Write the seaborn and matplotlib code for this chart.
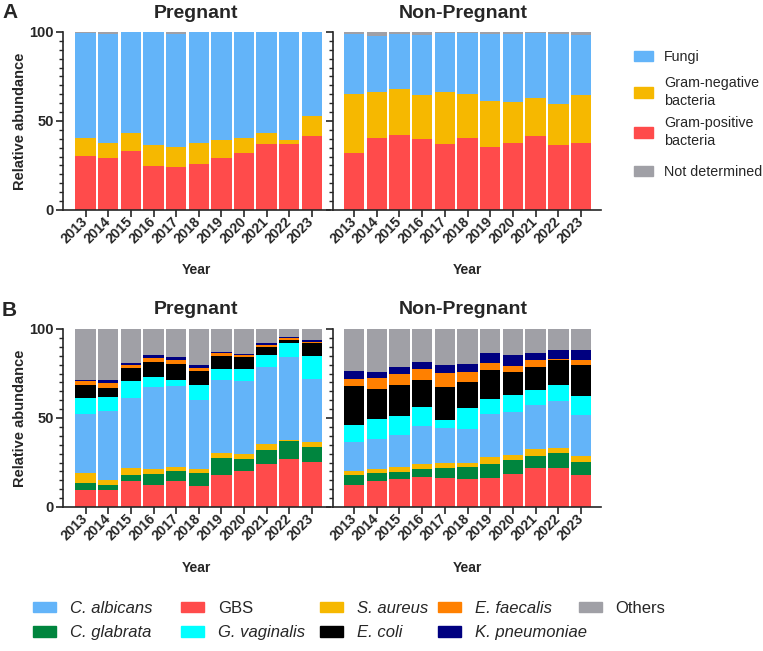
import matplotlib.pyplot as plt
import seaborn as sns
from matplotlib.patches import Patch
from matplotlib.ticker import MultipleLocator

years = [str(y) for y in range(2013, 2024)]

# Panel A: broad groups, relative abundance (%)
a_preg_gram_pos = [30.3, 29.3, 33.1, 24.7, 24.3, 26.0, 29.3, 32.0, 37.2, 37.0, 41.7]
a_preg_gram_neg = [9.9, 8.1, 9.9, 11.7, 11.0, 11.4, 10.0, 8.7, 6.2, 2.6, 11.0]
a_preg_fungi = [59.2, 61.6, 56.8, 63.4, 63.7, 62.4, 60.5, 59.1, 56.5, 60.3, 47.1]
a_preg_nd = [0.6, 1.0, 0.2, 0.2, 1.0, 0.2, 0.2, 0.2, 0.1, 0.1, 0.2]

a_nonp_gram_pos = [32.0, 40.7, 41.9, 39.8, 37.0, 40.7, 35.5, 37.8, 41.3, 36.4, 37.6]
a_nonp_gram_neg = [32.9, 25.5, 26.3, 24.7, 29.2, 24.7, 25.8, 22.9, 21.5, 23.2, 26.9]
a_nonp_fungi = [34.1, 31.8, 30.8, 33.8, 33.4, 34.2, 37.7, 38.0, 36.8, 39.4, 33.8]
a_nonp_nd = [1.0, 2.0, 1.0, 1.7, 0.4, 0.4, 1.0, 1.3, 0.4, 1.0, 1.7]

# Panel B: species, relative abundance (%)
b_preg_gbs = [9.7, 9.4, 14.8, 12.2, 14.4, 11.6, 18.0, 20.4, 24.3, 27.2, 25.5]
b_preg_cglab = [4.0, 3.1, 3.2, 6.2, 6.0, 7.5, 9.5, 6.8, 7.7, 9.7, 8.4]
b_preg_saur = [5.2, 2.5, 3.9, 2.8, 2.3, 2.4, 2.8, 2.6, 3.6, 0.9, 2.6]
b_preg_calb = [33.5, 39.1, 39.1, 46.0, 45.1, 38.8, 41.2, 40.8, 42.9, 46.5, 35.6]
b_preg_gvag = [8.6, 7.7, 9.8, 6.0, 3.7, 8.1, 6.0, 6.9, 7.1, 7.6, 12.5]
b_preg_ecoli = [7.7, 5.1, 7.5, 8.4, 9.0, 8.0, 7.5, 6.8, 4.5, 2.1, 7.3]
b_preg_efae = [2.3, 3.0, 1.7, 2.3, 2.1, 1.9, 1.5, 1.1, 1.1, 0.8, 0.8]
b_preg_kpn = [0.5, 1.4, 0.7, 1.3, 1.5, 1.7, 0.8, 0.7, 0.7, 0.5, 0.9]
b_preg_other = [28.5, 28.7, 19.3, 14.8, 15.9, 20.0, 12.7, 13.9, 8.1, 4.7, 6.4]

b_nonp_gbs = [12.5, 14.4, 15.9, 16.7, 16.1, 15.9, 16.1, 18.4, 21.7, 22.1, 17.8]
b_nonp_cglab = [5.3, 4.5, 3.8, 4.8, 5.8, 6.4, 8.2, 8.2, 7.1, 8.2, 7.7]
b_nonp_saur = [2.6, 2.4, 2.6, 2.5, 2.8, 2.6, 4.0, 2.4, 3.6, 2.8, 3.0]
b_nonp_calb = [16.1, 16.9, 18.1, 21.7, 19.5, 18.7, 24.1, 24.2, 24.7, 26.6, 23.0]
b_nonp_gvag = [9.6, 11.2, 10.5, 10.3, 4.9, 12.0, 8.1, 9.9, 8.8, 8.7, 10.7]
b_nonp_ecoli = [22.1, 17.1, 17.8, 15.3, 18.3, 14.6, 16.5, 12.6, 12.6, 14.0, 17.6]
b_nonp_efae = [3.9, 5.8, 5.8, 6.0, 7.9, 5.8, 4.1, 3.7, 4.3, 0.7, 3.0]
b_nonp_kpn = [4.3, 3.4, 4.3, 4.3, 4.7, 4.5, 5.4, 5.8, 3.9, 5.1, 5.6]
b_nonp_other = [23.6, 24.3, 21.2, 18.4, 20.0, 19.5, 13.5, 14.8, 13.3, 11.8, 11.6]

BLUE = "#63B4F9"
YELLOW = "#F6B800"
RED = "#FF4B4B"
GRAY = "#A0A0A6"
GREEN = "#00853E"
CYAN = "#00FFFF"
BLACK = "#000000"
ORANGE = "#FF8000"
NAVY = "#000080"

a_colors = [RED, YELLOW, BLUE, GRAY]
b_colors = [RED, GREEN, YELLOW, BLUE, CYAN, BLACK, ORANGE, NAVY, GRAY]

sns.set_style("ticks")
plt.rcParams["font.family"] = ["Liberation Sans", "DejaVu Sans"]

W, H = 763, 651
fig = plt.figure(figsize=(W / 100, H / 100), dpi=100)


def px_axes(x0, x1, ytop, ybot):
    return fig.add_axes([x0 / W, 1 - ybot / H, (x1 - x0) / W, (ybot - ytop) / H])


def stacked(ax, layers, colors):
    # cumulative tops, drawn from the tallest down so each layer covers the one above
    cum = []
    run = [0.0] * len(years)
    for layer in layers:
        run = [r + v for r, v in zip(run, layer)]
        cum.append(run)
    for tops, c in reversed(list(zip(cum, colors))):
        sns.barplot(x=years, y=tops, color=c, width=0.9, saturation=1,
                    errorbar=None, linewidth=0, ax=ax)


def style(ax, left, xlim, row_bottom):
    ax.set_xlim(*xlim)
    ax.set_ylim(0, 100)
    ax.set_yticks([0, 50, 100])
    ax.yaxis.set_minor_locator(MultipleLocator(5))
    sns.despine(ax=ax)
    for s in ["left", "bottom"]:
        ax.spines[s].set_linewidth(1.2)
    ax.tick_params(axis="both", which="major", length=5, width=1.2, pad=1.5)
    ax.tick_params(axis="y", which="minor", length=3, width=1.0)
    ax.tick_params(axis="y", labelsize=10.5)
    ax.tick_params(axis="x", labelsize=10)
    for lab in ax.get_yticklabels():
        lab.set_fontweight("bold")
    for lab in ax.get_xticklabels():
        lab.set_fontweight("bold")
        lab.set_rotation(45)
        lab.set_ha("right")
        lab.set_va("center")
        lab.set_rotation_mode("anchor")
    ax.set_xlabel("Year", fontsize=10, fontweight="bold", va="center")
    ax.xaxis.set_label_coords(0.5, row_bottom)
    if left:
        ax.set_ylabel("Relative abundance", fontsize=10.5, fontweight="bold", va="center")
        ax.yaxis.set_label_coords(-0.161, 0.5)
    else:
        ax.set_ylabel("")
        ax.set_yticklabels([])


# ---- Row A ----
axA1 = px_axes(63, 330, 32, 210)
axA2 = px_axes(333, 601, 32, 210)
stacked(axA1, [a_preg_gram_pos, a_preg_gram_neg, a_preg_fungi, a_preg_nd], a_colors)
stacked(axA2, [a_nonp_gram_pos, a_nonp_gram_neg, a_nonp_fungi, a_nonp_nd], a_colors)
style(axA1, True, (-1.0, 10.8), -0.337)
style(axA2, False, (-0.93, 10.88), -0.337)

# ---- Row B ----
axB1 = px_axes(63, 330, 329, 507)
axB2 = px_axes(333, 601, 329, 507)
stacked(axB1, [b_preg_gbs, b_preg_cglab, b_preg_saur, b_preg_calb, b_preg_gvag,
               b_preg_ecoli, b_preg_efae, b_preg_kpn, b_preg_other], b_colors)
stacked(axB2, [b_nonp_gbs, b_nonp_cglab, b_nonp_saur, b_nonp_calb, b_nonp_gvag,
               b_nonp_ecoli, b_nonp_efae, b_nonp_kpn, b_nonp_other], b_colors)
style(axB1, True, (-1.0, 10.8), -0.343)
style(axB2, False, (-0.93, 10.88), -0.343)

# titles and panel letters
for y, letter in [(13, "A"), (310, "B")]:
    fig.text(2 / W, 1 - y / H, letter, fontsize=15, fontweight="bold", va="center", ha="left")
    fig.text(196 / W, 1 - y / H, "Pregnant", fontsize=14, fontweight="bold", va="center", ha="center")
    fig.text(463 / W, 1 - y / H, "Non-Pregnant", fontsize=14, fontweight="bold", va="center", ha="center")

# legend A, one entry per row centre
a_entries = [("Fungi", BLUE, 57), ("Gram-negative\nbacteria", YELLOW, 92),
             ("Gram-positive\nbacteria", RED, 132), ("Not determined", GRAY, 172)]
for label, c, yc in a_entries:
    leg = fig.legend([Patch(color=c)], [label], loc="center left", bbox_to_anchor=(634 / W, 1 - yc / H),
                     frameon=False, fontsize=10.3, handlelength=1.35, handleheight=0.7,
                     handletextpad=0.75, borderpad=0, borderaxespad=0)
    for txt in leg.get_texts():
        txt.set_linespacing(1.45)

# legend B, laid out column by column
b_columns = [
    (33, [("C. albicans", BLUE, True), ("C. glabrata", GREEN, True)]),
    (181, [("GBS", RED, False), ("G. vaginalis", CYAN, True)]),
    (320, [("S. aureus", YELLOW, True), ("E. coli", BLACK, True)]),
    (438, [("E. faecalis", ORANGE, True), ("K. pneumoniae", NAVY, True)]),
    (579, [("Others", GRAY, False)]),
]
for x, entries in b_columns:
    leg = fig.legend([Patch(color=c) for _, c, _ in entries], [t for t, _, _ in entries],
                     loc="upper left", bbox_to_anchor=(x / W, 1 - 601 / H), frameon=False,
                     fontsize=12, handlelength=1.4, handleheight=0.6, handletextpad=0.8,
                     labelspacing=0.55, borderpad=0, borderaxespad=0)
    for txt, (_, _, ital) in zip(leg.get_texts(), entries):
        if ital:
            txt.set_fontstyle("italic")

fig.savefig("out.png", dpi=100)
